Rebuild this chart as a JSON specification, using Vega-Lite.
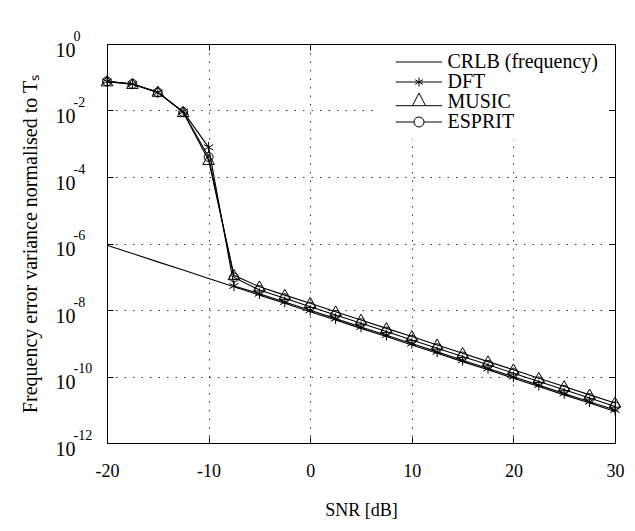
{
  "$schema": "https://vega.github.io/schema/vega-lite/v6.json",
  "width": 508,
  "height": 399,
  "autosize": {"type": "none"},
  "padding": {"left": 107, "top": 44, "right": 20, "bottom": 88},
  "background": "white",
  "config": {
    "font": "Liberation Serif",
    "view": {"stroke": "black", "strokeWidth": 1},
    "axis": {
      "labelFont": "Liberation Serif",
      "titleFont": "Liberation Serif",
      "labelColor": "black",
      "titleColor": "black",
      "titleFontWeight": "normal",
      "domainColor": "black",
      "tickColor": "black",
      "gridColor": "black",
      "gridDash": [1.5, 7],
      "gridOpacity": 0.8,
      "labelFlush": false
    },
    "legend": {"labelFont": "Liberation Serif"}
  },
  "data": {
    "values": [
      {"snr": -20, "method": "CRLB (frequency)", "v": 8.9e-7},
      {"snr": -17.5, "method": "CRLB (frequency)", "v": 5.0e-7},
      {"snr": -15, "method": "CRLB (frequency)", "v": 2.8e-7},
      {"snr": -12.5, "method": "CRLB (frequency)", "v": 1.6e-7},
      {"snr": -10, "method": "CRLB (frequency)", "v": 8.9e-8},
      {"snr": -7.5, "method": "CRLB (frequency)", "v": 5.0e-8},
      {"snr": -5, "method": "CRLB (frequency)", "v": 2.8e-8},
      {"snr": -2.5, "method": "CRLB (frequency)", "v": 1.6e-8},
      {"snr": 0, "method": "CRLB (frequency)", "v": 8.9e-9},
      {"snr": 2.5, "method": "CRLB (frequency)", "v": 5.0e-9},
      {"snr": 5, "method": "CRLB (frequency)", "v": 2.8e-9},
      {"snr": 7.5, "method": "CRLB (frequency)", "v": 1.6e-9},
      {"snr": 10, "method": "CRLB (frequency)", "v": 8.9e-10},
      {"snr": 12.5, "method": "CRLB (frequency)", "v": 5.0e-10},
      {"snr": 15, "method": "CRLB (frequency)", "v": 2.8e-10},
      {"snr": 17.5, "method": "CRLB (frequency)", "v": 1.6e-10},
      {"snr": 20, "method": "CRLB (frequency)", "v": 8.9e-11},
      {"snr": 22.5, "method": "CRLB (frequency)", "v": 5.0e-11},
      {"snr": 25, "method": "CRLB (frequency)", "v": 2.8e-11},
      {"snr": 27.5, "method": "CRLB (frequency)", "v": 1.6e-11},
      {"snr": 30, "method": "CRLB (frequency)", "v": 8.9e-12},

      {"snr": -20, "method": "DFT", "v": 0.075},
      {"snr": -17.5, "method": "DFT", "v": 0.063},
      {"snr": -15, "method": "DFT", "v": 0.035},
      {"snr": -12.5, "method": "DFT", "v": 0.0092},
      {"snr": -10, "method": "DFT", "v": 7.8e-4},
      {"snr": -7.5, "method": "DFT", "v": 5.3e-8},
      {"snr": -5, "method": "DFT", "v": 3.1e-8},
      {"snr": -2.5, "method": "DFT", "v": 1.75e-8},
      {"snr": 0, "method": "DFT", "v": 9.8e-9},
      {"snr": 2.5, "method": "DFT", "v": 5.5e-9},
      {"snr": 5, "method": "DFT", "v": 3.1e-9},
      {"snr": 7.5, "method": "DFT", "v": 1.75e-9},
      {"snr": 10, "method": "DFT", "v": 9.8e-10},
      {"snr": 12.5, "method": "DFT", "v": 5.5e-10},
      {"snr": 15, "method": "DFT", "v": 3.1e-10},
      {"snr": 17.5, "method": "DFT", "v": 1.75e-10},
      {"snr": 20, "method": "DFT", "v": 9.8e-11},
      {"snr": 22.5, "method": "DFT", "v": 5.5e-11},
      {"snr": 25, "method": "DFT", "v": 3.1e-11},
      {"snr": 27.5, "method": "DFT", "v": 1.75e-11},
      {"snr": 30, "method": "DFT", "v": 9.8e-12},

      {"snr": -20, "method": "MUSIC", "v": 0.074},
      {"snr": -17.5, "method": "MUSIC", "v": 0.062},
      {"snr": -15, "method": "MUSIC", "v": 0.036},
      {"snr": -12.5, "method": "MUSIC", "v": 0.0088},
      {"snr": -10, "method": "MUSIC", "v": 3.2e-4},
      {"snr": -7.5, "method": "MUSIC", "v": 1.1e-7},
      {"snr": -5, "method": "MUSIC", "v": 5.0e-8},
      {"snr": -2.5, "method": "MUSIC", "v": 2.8e-8},
      {"snr": 0, "method": "MUSIC", "v": 1.6e-8},
      {"snr": 2.5, "method": "MUSIC", "v": 8.9e-9},
      {"snr": 5, "method": "MUSIC", "v": 5.0e-9},
      {"snr": 7.5, "method": "MUSIC", "v": 2.8e-9},
      {"snr": 10, "method": "MUSIC", "v": 1.6e-9},
      {"snr": 12.5, "method": "MUSIC", "v": 8.9e-10},
      {"snr": 15, "method": "MUSIC", "v": 5.0e-10},
      {"snr": 17.5, "method": "MUSIC", "v": 2.8e-10},
      {"snr": 20, "method": "MUSIC", "v": 1.6e-10},
      {"snr": 22.5, "method": "MUSIC", "v": 8.9e-11},
      {"snr": 25, "method": "MUSIC", "v": 5.0e-11},
      {"snr": 27.5, "method": "MUSIC", "v": 2.8e-11},
      {"snr": 30, "method": "MUSIC", "v": 1.6e-11},

      {"snr": -20, "method": "ESPRIT", "v": 0.075},
      {"snr": -17.5, "method": "ESPRIT", "v": 0.063},
      {"snr": -15, "method": "ESPRIT", "v": 0.035},
      {"snr": -12.5, "method": "ESPRIT", "v": 0.009},
      {"snr": -10, "method": "ESPRIT", "v": 4.0e-4},
      {"snr": -7.5, "method": "ESPRIT", "v": 9.5e-8},
      {"snr": -5, "method": "ESPRIT", "v": 4.0e-8},
      {"snr": -2.5, "method": "ESPRIT", "v": 2.25e-8},
      {"snr": 0, "method": "ESPRIT", "v": 1.26e-8},
      {"snr": 2.5, "method": "ESPRIT", "v": 7.1e-9},
      {"snr": 5, "method": "ESPRIT", "v": 4.0e-9},
      {"snr": 7.5, "method": "ESPRIT", "v": 2.25e-9},
      {"snr": 10, "method": "ESPRIT", "v": 1.26e-9},
      {"snr": 12.5, "method": "ESPRIT", "v": 7.1e-10},
      {"snr": 15, "method": "ESPRIT", "v": 4.0e-10},
      {"snr": 17.5, "method": "ESPRIT", "v": 2.25e-10},
      {"snr": 20, "method": "ESPRIT", "v": 1.26e-10},
      {"snr": 22.5, "method": "ESPRIT", "v": 7.1e-11},
      {"snr": 25, "method": "ESPRIT", "v": 4.0e-11},
      {"snr": 27.5, "method": "ESPRIT", "v": 2.25e-11},
      {"snr": 30, "method": "ESPRIT", "v": 1.26e-11}
    ]
  },
  "layer": [
    {
      "mark": {"type": "line", "color": "black", "strokeWidth": 1.1},
      "encoding": {
        "x": {
          "field": "snr",
          "type": "quantitative",
          "scale": {"domain": [-20, 30], "nice": false},
          "axis": {
            "values": [-20, -10, 0, 10, 20, 30],
            "labelExpr": "datum.value < 0 ? '-' + abs(datum.value) : '' + datum.value",
            "title": "SNR [dB]",
            "labelFont": "Liberation Serif",
            "titleFont": "Liberation Serif",
            "labelFontSize": 18,
            "titleFontSize": 18,
            "tickSize": -6,
            "labelPadding": 39,
            "labelBaseline": "alphabetic",
            "labelFlush": false,
            "titlePadding": 21,
            "grid": true,
            "domain": false
          }
        },
        "y": {
          "field": "v",
          "type": "quantitative",
          "scale": {"type": "log", "domain": [1e-12, 1], "nice": false},
          "axis": {
            "values": [1, 1e-2, 1e-4, 1e-6, 1e-8, 1e-10, 1e-12],
            "labelExpr": "'10'",
            "title": "Frequency error variance normalised to Tₛ",
            "labelFont": "Liberation Serif",
            "titleFont": "Liberation Serif",
            "labelFontSize": 20,
            "titleFontSize": 20,
            "tickSize": -6,
            "labelPadding": 38,
            "labelBaseline": "alphabetic",
            "labelFlush": false,
            "labelOffset": 12,
            "titlePadding": 15,
            "grid": true,
            "domain": false
          }
        },
        "detail": {"field": "method", "type": "nominal"}
      }
    },
    {
      "transform": [{"filter": "datum.method === 'DFT'"}],
      "mark": {"type": "point", "filled": false, "color": "black", "size": 80, "strokeWidth": 1, "opacity": 1, "shape": "M0,-1.2L0,1.2M-1.04,-0.6L1.04,0.6M-1.04,0.6L1.04,-0.6"},
      "encoding": {
        "x": {
          "field": "snr",
          "type": "quantitative",
          "axis": {"orient": "top", "values": [-20, -10, 0, 10, 20, 30], "labels": false, "tickSize": -6, "grid": false, "domain": false, "title": null}
        },
        "y": {"field": "v", "type": "quantitative", "axis": null}
      }
    },
    {
      "transform": [{"filter": "datum.method === 'MUSIC'"}],
      "mark": {"type": "point", "filled": false, "color": "black", "size": 80, "strokeWidth": 1, "opacity": 1, "shape": "M0,-1.3L1.3,0.95L-1.3,0.95Z"},
      "encoding": {
        "x": {"field": "snr", "type": "quantitative", "axis": null},
        "y": {
          "field": "v",
          "type": "quantitative",
          "axis": {"orient": "right", "values": [1, 1e-2, 1e-4, 1e-6, 1e-8, 1e-10, 1e-12], "labels": false, "tickSize": -6, "grid": false, "domain": false, "title": null}
        }
      }
    },
    {
      "transform": [{"filter": "datum.method === 'ESPRIT'"}],
      "mark": {"type": "point", "filled": false, "size": 80, "strokeWidth": 1, "opacity": 1, "shape": "circle"},
      "encoding": {
        "x": {"field": "snr", "type": "quantitative", "axis": null},
        "y": {
          "field": "v",
          "type": "quantitative",
          "axis": {
            "orient": "left",
            "values": [1, 1e-2, 1e-4, 1e-6, 1e-8, 1e-10, 1e-12],
            "labelExpr": "'' + round(log(datum.value) / LN10)",
            "labelFont": "Liberation Serif",
            "labelFontSize": 14,
            "labelAlign": "left",
            "labelBaseline": "alphabetic",
            "labelFlush": false,
            "labelPadding": 34,
            "labelOffset": -4,
            "ticks": false,
            "grid": false,
            "domain": false,
            "title": null
          }
        },
        "color": {
          "field": "method",
          "type": "nominal",
          "scale": {
            "domain": ["CRLB (frequency)", "DFT", "MUSIC", "ESPRIT"],
            "range": ["black", "black", "black", "black"]
          },
          "legend": {
            "title": null,
            "orient": "none",
            "legendX": 271,
            "legendY": 1,
            "fillColor": "white",
            "padding": 7,
            "labelFont": "Liberation Serif",
            "labelFontSize": 20,
            "labelColor": "black",
            "symbolSize": 100,
            "symbolOffset": 24,
            "labelOffset": 18.5,
            "rowPadding": -4.5,
            "symbolStrokeColor": "black",
            "symbolFillColor": "transparent",
            "symbolStrokeWidth": 1,
            "symbolType": {"expr": "datum.value === 'DFT' ? 'M-4.6,0L4.6,0M0,-0.9L0,0.9M-0.78,-0.45L0.78,0.45M-0.78,0.45L0.78,-0.45' : datum.value === 'MUSIC' ? 'M-4.6,0.74L-1.3,0.74M1.3,0.74L4.6,0.74M0,-1.8L1.3,0.74L-1.3,0.74Z' : datum.value === 'ESPRIT' ? 'M-4.6,0L-1,0A1,1 0 1,1 1,0A1,1 0 1,1 -1,0M1,0L4.6,0' : 'M-4.6,0L4.6,0'"}
          }
        }
      }
    }
  ],
  "resolve": {"axis": {"x": "independent", "y": "independent"}}
}
